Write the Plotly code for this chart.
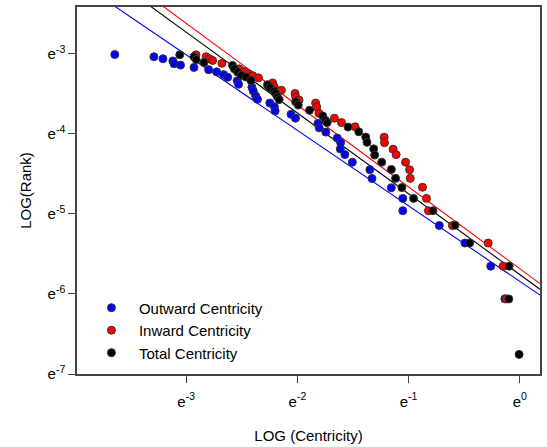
import numpy as np
import plotly.graph_objects as go

# Values are natural logs: x = ln(Centricity), y = ln(Rank)
outward_x = [-3.642, -3.290, -3.209, -3.120, -3.109, -3.051, -2.930, -2.798, -2.726, -2.663,
             -2.627, -2.541, -2.529, -2.409, -2.397, -2.375, -2.359, -2.248, -2.207, -2.200,
             -2.057, -2.017, -1.815, -1.804, -1.744, -1.642, -1.611, -1.614, -1.573, -1.506,
             -1.348, -1.329, -1.155, -1.052, -1.052, -0.724, -0.493, -0.261, -0.134]
outward_y = [-3.009, -3.037, -3.062, -3.089, -3.124, -3.141, -3.170, -3.198, -3.225, -3.260,
             -3.293, -3.337, -3.380, -3.417, -3.463, -3.528, -3.569, -3.615, -3.661, -3.714,
             -3.755, -3.804, -3.869, -3.924, -3.978, -4.052, -4.110, -4.188, -4.259, -4.354,
             -4.447, -4.558, -4.673, -4.807, -4.960, -5.145, -5.364, -5.653, -6.061]

inward_x = [-2.912, -2.821, -2.791, -2.762, -2.679, -2.523, -2.475, -2.438, -2.400, -2.350,
            -2.223, -2.209, -2.144, -2.021, -2.015, -1.985, -1.836, -1.826, -1.806, -1.667,
            -1.603, -1.481, -1.220, -1.217, -1.139, -1.112, -1.027, -0.991, -0.985, -0.875,
            -0.839, -0.821, -0.606, -0.284, -0.150, -0.120]
inward_y = [-3.012, -3.037, -3.062, -3.083, -3.118, -3.188, -3.219, -3.250, -3.275, -3.300,
            -3.364, -3.411, -3.454, -3.495, -3.541, -3.578, -3.615, -3.665, -3.743, -3.804,
            -3.859, -3.912, -4.042, -4.110, -4.191, -4.259, -4.354, -4.448, -4.556, -4.667,
            -4.806, -4.960, -5.146, -5.364, -5.653, -6.062]

total_x = [-3.058, -2.930, -2.910, -2.840, -2.583, -2.567, -2.538, -2.507, -2.463, -2.418,
           -2.269, -2.248, -2.209, -2.196, -2.180, -2.164, -2.015, -1.992, -1.891, -1.772,
           -1.746, -1.732, -1.544, -1.448, -1.385, -1.374, -1.314, -1.305, -1.242, -1.155,
           -1.117, -1.060, -0.955, -0.781, -0.582, -0.451, -0.096, -0.099, -0.006]
total_y = [-3.012, -3.037, -3.071, -3.108, -3.145, -3.188, -3.228, -3.269, -3.290, -3.334,
           -3.386, -3.426, -3.467, -3.495, -3.537, -3.572, -3.599, -3.640, -3.705, -3.776,
           -3.832, -3.859, -3.915, -3.974, -4.040, -4.106, -4.187, -4.265, -4.354, -4.444,
           -4.556, -4.671, -4.806, -4.960, -5.141, -5.364, -5.653, -6.062, -6.755]

# Fitted regression lines (intercept, slope) in log space
fit_outward = (-5.843, -0.9436)
fit_inward = (-5.685, -1.022)
fit_total = (-5.757, -1.009)

x_range = [-3.982, 0.182]
y_range = [-7.0, -2.415]
x_ticks = [-3, -2, -1, 0]
y_ticks = [-7, -6, -5, -4, -3]

FONT = "Liberation Sans, Arial, sans-serif"

fig = go.Figure()
line_x = np.array(x_range)
for (a, b), col in [(fit_outward, "#0000FF"), (fit_inward, "#FF0000"), (fit_total, "#000000")]:
    fig.add_trace(go.Scatter(x=line_x, y=a + b * line_x, mode="lines",
                             line=dict(color=col, width=1.1), showlegend=False,
                             hoverinfo="skip"))

for xs, ys, col, name in [(outward_x, outward_y, "#0000FF", "Outward Centricity"),
                          (inward_x, inward_y, "#FF0000", "Inward Centricity"),
                          (total_x, total_y, "#000000", "Total Centricity")]:
    fig.add_trace(go.Scatter(x=xs, y=ys, mode="markers", name=name,
                             marker=dict(color=col, size=8,
                                         line=dict(color="#333333", width=1))))

axis_common = dict(showline=True, linecolor="#444444", linewidth=1.5, mirror=True,
                   ticks="outside", ticklen=7, tickwidth=1, tickcolor="#444444",
                   showgrid=False, zeroline=False,
                   tickfont=dict(family=FONT, size=15, color="#000000"),
                   title_font=dict(family=FONT, size=15, color="#000000"))

fig.update_xaxes(range=x_range, tickvals=x_ticks,
                 ticktext=["e<sup>%d</sup>" % v for v in x_ticks],
                 ticklabelstandoff=6,
                 title_text="LOG (Centricity)", title_standoff=22, **axis_common)
fig.update_yaxes(range=y_range, tickvals=y_ticks,
                 ticktext=["e<sup>%d</sup>" % v for v in y_ticks],
                 title_text="LOG(Rank)", title_standoff=12, **axis_common)

fig.update_layout(
    width=547, height=447,
    margin=dict(l=77, r=5, t=6, b=70.5),
    plot_bgcolor="white", paper_bgcolor="white",
    font=dict(family=FONT, size=15, color="#000000"),
    legend=dict(x=0.015, y=0.225, xanchor="left", yanchor="top",
                bgcolor="rgba(0,0,0,0)", itemwidth=45, tracegroupgap=0,
                font=dict(family=FONT, size=15, color="#000000")),
)

fig.write_html("out.html")
